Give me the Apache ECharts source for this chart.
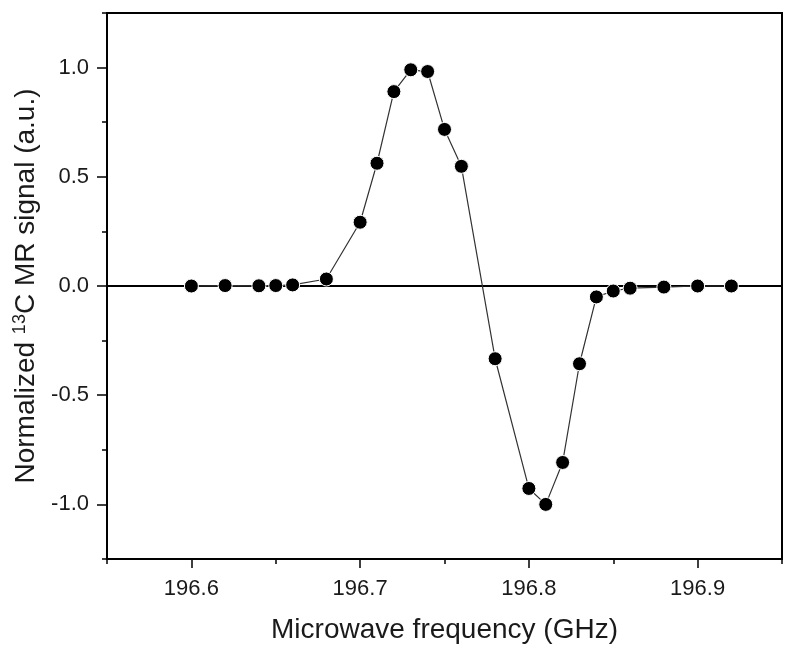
<!DOCTYPE html>
<html>
<head>
<meta charset="utf-8">
<script src="https://cdn.jsdelivr.net/npm/echarts@6/dist/echarts.min.js"></script>
<style>html,body{margin:0;padding:0;background:#fff;}#chart{width:800px;height:660px;}</style>
</head>
<body>
<div id="chart"></div>
<script>
// Data
const freqGHz = [196.60, 196.62, 196.64, 196.65, 196.66, 196.68, 196.70, 196.71, 196.72, 196.73, 196.74, 196.75, 196.76, 196.78, 196.80, 196.81, 196.82, 196.83, 196.84, 196.85, 196.86, 196.88, 196.90, 196.92];
const signal  = [0.000, 0.002, 0.001, 0.002, 0.005, 0.032, 0.292, 0.562, 0.890, 0.990, 0.982, 0.717, 0.548, -0.333, -0.927, -1.000, -0.808, -0.356, -0.050, -0.023, -0.010, -0.005, 0.000, 0.000];
const xTicks = [196.6, 196.7, 196.8, 196.9];
const yTicks = [-1.0, -0.5, 0.0, 0.5, 1.0];
const xRange = [196.55, 196.95];
const yRange = [-1.25, 1.25];

const pts = freqGHz.map((f, i) => [f, signal[i]]);
const font = 'Liberation Sans, Arial, sans-serif';

const chart = echarts.init(document.getElementById('chart'));
chart.setOption({
  animation: false,
  backgroundColor: '#fff',
  grid: { left: 107, right: 18, top: 13, bottom: 101, show: true, borderColor: '#000', borderWidth: 2, backgroundColor: 'transparent' },
  xAxis: [
    {
      type: 'value', min: xRange[0], max: xRange[1], position: 'bottom',
      axisLine: { show: true, onZero: false, lineStyle: { color: '#000', width: 2 } },
      axisTick: { show: true, customValues: xTicks, length: 9, lineStyle: { color: '#000', width: 1.5 } },
      axisLabel: { customValues: xTicks, formatter: v => v.toFixed(1), fontSize: 22, color: '#1a1a1a', fontFamily: font, margin: 19 },
      splitLine: { show: false },
      name: 'Microwave frequency (GHz)', nameLocation: 'middle', nameGap: 57,
      nameTextStyle: { fontSize: 28, color: '#1a1a1a', fontFamily: font }
    },
    {
      type: 'value', min: xRange[0], max: xRange[1], interval: 0.05, position: 'bottom',
      axisLine: { show: false, onZero: false },
      axisTick: { show: true, length: 5, lineStyle: { color: '#000', width: 1.5 } },
      axisLabel: { show: false }, splitLine: { show: false }
    }
  ],
  yAxis: [
    {
      type: 'value', min: yRange[0], max: yRange[1], position: 'left',
      axisLine: { show: true, onZero: false, lineStyle: { color: '#000', width: 2 } },
      axisTick: { show: true, customValues: yTicks, length: 10, lineStyle: { color: '#000', width: 1.5 } },
      axisLabel: { customValues: yTicks, formatter: v => v.toFixed(1), fontSize: 22, color: '#1a1a1a', fontFamily: font, margin: 18 },
      splitLine: { show: false },
      name: '{n|Normalized }{s|13}{n|C MR signal (a.u.)}', nameLocation: 'middle', nameGap: 64,
      nameTextStyle: {
        fontSize: 28, color: '#1a1a1a', fontFamily: font,
        rich: {
          n: { fontSize: 28, color: '#1a1a1a', fontFamily: font, lineHeight: 30 },
          s: { fontSize: 18, color: '#1a1a1a', fontFamily: font, verticalAlign: 'top', lineHeight: 18 }
        }
      }
    },
    {
      type: 'value', min: yRange[0], max: yRange[1], interval: 0.25, position: 'left',
      axisLine: { show: false, onZero: false },
      axisTick: { show: true, length: 5, lineStyle: { color: '#000', width: 1.5 } },
      axisLabel: { show: false }, splitLine: { show: false }
    }
  ],
  series: [{
    type: 'line', data: pts, xAxisIndex: 0, yAxisIndex: 0, z: 5,
    symbol: 'circle', symbolSize: 14,
    lineStyle: { color: '#333', width: 1.2 },
    itemStyle: { color: '#000', borderColor: '#fff', borderWidth: 1 },
    markLine: {
      silent: true, symbol: 'none', z: 1, label: { show: false },
      lineStyle: { color: '#000', width: 2, type: 'solid' },
      data: [{ yAxis: 0 }]
    }
  }]
});
</script>
</body>
</html>
